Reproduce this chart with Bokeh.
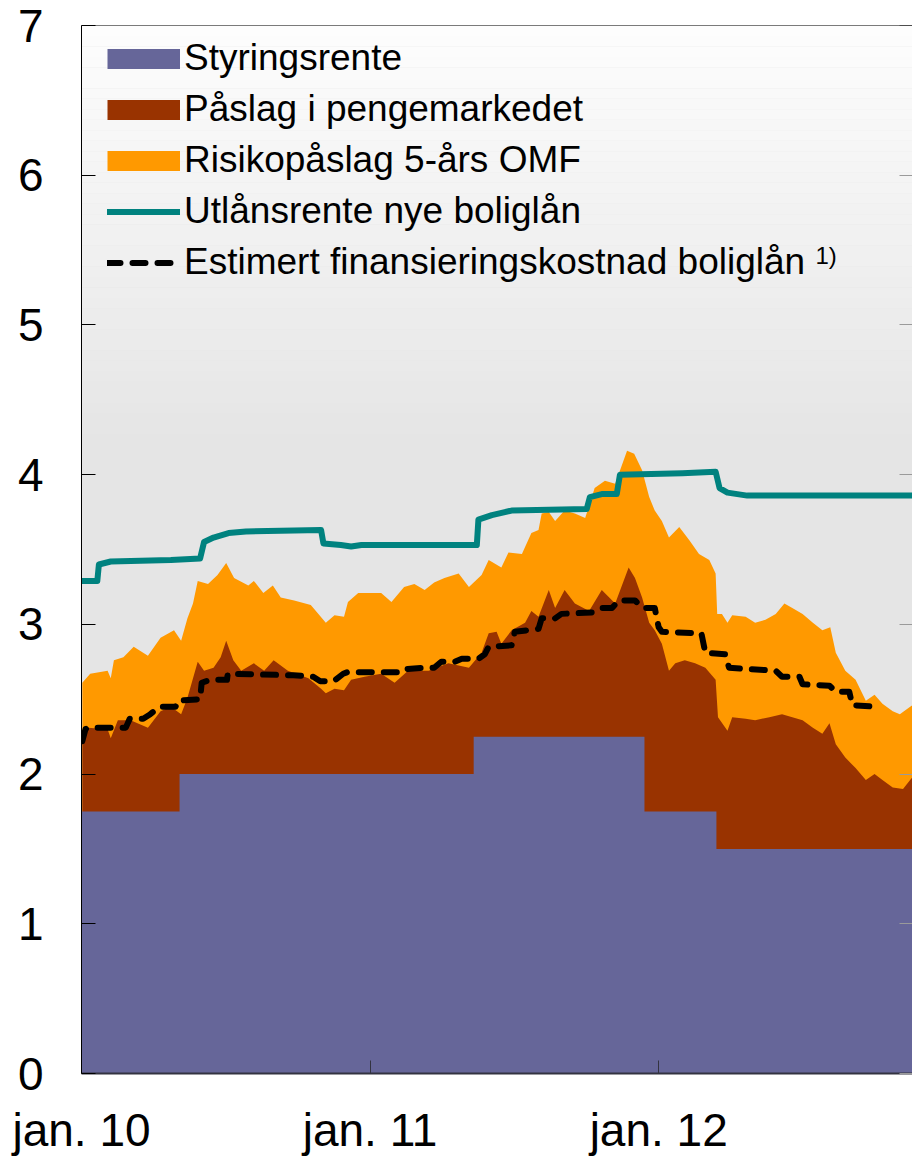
import pandas as pd
from bokeh.plotting import figure
from bokeh.models import (FixedTicker, DatetimeTickFormatter, Legend, LegendItem,
                          Label, Span, BoxAnnotation, LinearAxis)
from bokeh.embed import file_html
from bokeh.resources import INLINE

# ---------------- data ----------------
# Styringsrente (policy rate), step changes
policy_dates = ["2010-01-01", "2010-05-05", "2011-05-12", "2011-12-14", "2012-03-14", "2012-11-20"]
policy_rate = [1.75, 2.00, 2.25, 1.75, 1.50, 1.50]

# Top of "Påslag i pengemarkedet" (styringsrente + påslag i pengemarkedet)
mm_dates = ["2010-01-02", "2010-01-09", "2010-02-03", "2010-02-07", "2010-02-16", "2010-03-04",
            "2010-03-26", "2010-04-11", "2010-04-24", "2010-05-07", "2010-05-15", "2010-05-28",
            "2010-06-05", "2010-06-17", "2010-06-26", "2010-07-03", "2010-07-12", "2010-07-22",
            "2010-08-07", "2010-08-20", "2010-09-01", "2010-09-19", "2010-10-15", "2010-10-31",
            "2010-11-06", "2010-11-17", "2010-11-29", "2010-12-08", "2010-12-25", "2011-01-15",
            "2011-02-01", "2011-02-18", "2011-03-16", "2011-04-10", "2011-05-06", "2011-05-22",
            "2011-05-31", "2011-06-10", "2011-06-16", "2011-06-29", "2011-07-16", "2011-07-24",
            "2011-08-02", "2011-08-15", "2011-08-23", "2011-09-04", "2011-09-17", "2011-10-05",
            "2011-10-21", "2011-11-07", "2011-11-24", "2011-12-02", "2011-12-11", "2011-12-20",
            "2011-12-27", "2012-01-05", "2012-01-14", "2012-01-22", "2012-02-03", "2012-02-16",
            "2012-02-29", "2012-03-13", "2012-03-16", "2012-03-28", "2012-04-03", "2012-04-20",
            "2012-05-02", "2012-05-20", "2012-06-05", "2012-06-18", "2012-07-01", "2012-07-14",
            "2012-07-26", "2012-08-04", "2012-08-12", "2012-08-24", "2012-09-06", "2012-09-19",
            "2012-09-30", "2012-10-10", "2012-10-23", "2012-11-05", "2012-11-14", "2012-11-20"]
mm_top = [2.24, 2.31, 2.30, 2.24, 2.36, 2.36,
          2.31, 2.42, 2.45, 2.40, 2.51, 2.75,
          2.69, 2.71, 2.78, 2.89, 2.76, 2.69,
          2.74, 2.69, 2.76, 2.69, 2.64, 2.57,
          2.54, 2.57, 2.56, 2.63, 2.65, 2.67,
          2.61, 2.69, 2.69, 2.74, 2.71, 2.81,
          2.94, 2.95, 2.87, 2.96, 3.01, 3.09,
          3.05, 3.23, 3.11, 3.23, 3.14, 3.09,
          3.23, 3.14, 3.38, 3.31, 3.18, 3.01,
          2.96, 2.87, 2.69, 2.74, 2.76, 2.74,
          2.71, 2.63, 2.38, 2.29, 2.38, 2.37,
          2.36, 2.38, 2.40, 2.38, 2.36, 2.31,
          2.27, 2.34, 2.20, 2.11, 2.04, 1.96,
          2.00, 1.96, 1.91, 1.90, 1.96, 2.00]

# Top of "Risikopåslag 5-års OMF" (total of the three stacked components)
omf_dates = ["2010-01-02", "2010-01-12", "2010-02-03", "2010-02-07", "2010-02-11", "2010-02-23",
             "2010-03-08", "2010-03-26", "2010-04-11", "2010-04-28", "2010-05-07", "2010-05-15",
             "2010-05-22", "2010-05-28", "2010-06-10", "2010-06-22", "2010-07-03", "2010-07-13",
             "2010-07-31", "2010-08-07", "2010-08-19", "2010-08-31", "2010-09-10", "2010-09-27",
             "2010-10-18", "2010-10-29", "2010-11-06", "2010-11-17", "2010-11-29", "2010-12-04",
             "2010-12-17", "2011-01-03", "2011-01-15", "2011-01-28", "2011-02-13", "2011-02-26",
             "2011-03-11", "2011-03-23", "2011-04-05", "2011-04-23", "2011-05-06", "2011-05-22",
             "2011-05-31", "2011-06-16", "2011-06-25", "2011-07-12", "2011-07-24", "2011-08-02",
             "2011-08-06", "2011-08-15", "2011-08-23", "2011-09-04", "2011-09-17", "2011-09-30",
             "2011-10-12", "2011-10-25", "2011-11-07", "2011-11-22", "2011-12-01", "2011-12-11",
             "2011-12-20", "2011-12-27", "2012-01-05", "2012-01-14", "2012-01-27", "2012-02-09",
             "2012-02-21", "2012-03-05", "2012-03-13", "2012-03-15", "2012-03-21", "2012-03-28",
             "2012-04-03", "2012-04-20", "2012-05-02", "2012-05-15", "2012-05-28", "2012-06-08",
             "2012-06-18", "2012-07-01", "2012-07-14", "2012-07-26", "2012-08-05", "2012-08-12",
             "2012-08-24", "2012-09-06", "2012-09-19", "2012-09-30", "2012-10-10", "2012-10-23",
             "2012-11-01", "2012-11-14", "2012-11-20"]
omf_top = [2.61, 2.67, 2.69, 2.64, 2.76, 2.78,
           2.85, 2.79, 2.91, 2.96, 2.89, 3.04,
           3.14, 3.29, 3.27, 3.33, 3.41, 3.31,
           3.26, 3.29, 3.21, 3.26, 3.18, 3.16,
           3.13, 3.06, 3.01, 3.06, 3.05, 3.15,
           3.21, 3.21, 3.21, 3.15, 3.25, 3.27,
           3.23, 3.28, 3.31, 3.34, 3.25, 3.33,
           3.43, 3.38, 3.48, 3.47, 3.61, 3.63,
           3.74, 3.75, 3.69, 3.76, 3.74, 3.71,
           3.91, 3.96, 3.94, 4.16, 4.14, 4.03,
           3.85, 3.76, 3.69, 3.58, 3.65, 3.56,
           3.47, 3.43, 3.34, 3.07, 3.07, 3.01,
           3.06, 3.05, 3.01, 3.03, 3.07, 3.14,
           3.11, 3.07, 3.01, 2.96, 2.98, 2.81,
           2.69, 2.63, 2.49, 2.53, 2.47, 2.42,
           2.40, 2.45, 2.47]

# Utlånsrente nye boliglån
loan_dates = ["2010-01-01", "2010-01-21", "2010-01-23", "2010-02-07", "2010-04-24", "2010-05-31",
              "2010-06-05", "2010-06-17", "2010-07-06", "2010-07-28", "2010-10-31", "2010-11-03",
              "2010-11-25", "2010-12-08", "2010-12-21", "2011-05-16", "2011-05-18", "2011-06-04",
              "2011-06-29", "2011-10-02", "2011-10-06", "2011-10-21", "2011-11-09", "2011-11-13",
              "2012-01-31", "2012-03-13", "2012-03-18", "2012-03-28", "2012-04-22", "2012-11-20"]
loan_rate = [3.29, 3.29, 3.40, 3.42, 3.43, 3.44,
             3.55, 3.58, 3.61, 3.62, 3.63, 3.54,
             3.53, 3.52, 3.53, 3.53, 3.70, 3.73,
             3.76, 3.77, 3.85, 3.87, 3.87, 4.00,
             4.01, 4.02, 3.91, 3.88, 3.86, 3.86]

# Estimert finansieringskostnad boliglån
cost_dates = ["2010-01-02", "2010-01-06", "2010-01-09", "2010-02-26", "2010-03-03", "2010-03-20",
              "2010-03-29", "2010-04-10", "2010-04-30", "2010-05-03", "2010-05-31", "2010-06-02",
              "2010-06-13", "2010-07-04", "2010-07-05", "2010-09-26", "2010-10-21", "2010-10-30",
              "2010-11-16", "2010-11-28", "2010-12-03", "2011-02-06", "2011-02-10", "2011-03-11",
              "2011-03-23", "2011-04-01", "2011-04-18", "2011-04-27", "2011-05-18", "2011-05-26",
              "2011-05-31", "2011-06-29", "2011-07-03", "2011-08-02", "2011-08-06", "2011-08-23",
              "2011-08-31", "2011-10-09", "2011-10-21", "2011-11-03", "2011-11-12", "2011-12-02",
              "2011-12-11", "2011-12-27", "2012-01-01", "2012-01-05", "2012-02-24", "2012-02-29",
              "2012-03-25", "2012-03-30", "2012-05-28", "2012-06-05", "2012-06-27", "2012-07-01",
              "2012-08-04", "2012-08-12", "2012-08-29", "2012-09-02", "2012-10-01"]
cost_rate = [2.22, 2.30, 2.31, 2.31, 2.37, 2.37,
             2.40, 2.45, 2.45, 2.49, 2.50, 2.61,
             2.63, 2.63, 2.67, 2.66, 2.65, 2.62,
             2.62, 2.67, 2.68, 2.68, 2.70, 2.71,
             2.71, 2.75, 2.75, 2.77, 2.77, 2.80,
             2.85, 2.86, 2.95, 2.97, 3.04, 3.04,
             3.07, 3.08, 3.11, 3.11, 3.16, 3.16,
             3.11, 3.11, 2.98, 2.95, 2.94, 2.81,
             2.80, 2.71, 2.69, 2.65, 2.65, 2.60,
             2.59, 2.55, 2.55, 2.46, 2.45]

x_tick_dates = ["2010-01-01", "2011-01-01", "2012-01-01"]
y_ticks = [0, 1, 2, 3, 4, 5, 6, 7]

series_labels = ["Styringsrente", "Påslag i pengemarkedet", "Risikopåslag 5-års OMF",
                 "Utlånsrente nye boliglån", "Estimert finansieringskostnad boliglån"]
footnote = "1)"

# ---------------- styling ----------------
PURPLE = "#666699"
BROWN = "#993300"
ORANGE = "#ff9900"
TEAL = "#00827f"
FONT = "Liberation Sans"
NAN = float("nan")

to_dt = pd.to_datetime

p = figure(width=912, height=1158, x_axis_type="datetime",
           x_range=(pd.Timestamp("2010-01-01"), pd.Timestamp("2012-11-17")),
           y_range=(0, 7), output_backend="svg", toolbar_location=None,
           min_border_left=81, min_border_right=0, min_border_top=25, min_border_bottom=0)
p.background_fill_color = "#e5e5e5"
p.border_fill_color = "white"
p.outline_line_color = None
p.xgrid.visible = False
p.ygrid.visible = False

# vertical light gradient in the upper part of the plot area
N = 40
lo, hi = 4.2, 7.0
for i in range(N):
    b = lo + (hi - lo) * i / N
    t = b + (hi - lo) / N
    f = (i + 0.5) / N
    g = int(round(229 + (253 - 229) * f))
    p.add_layout(BoxAnnotation(bottom=b, top=t, fill_color=(g, g, g), fill_alpha=1.0,
                               line_color=None, level="underlay"))

# stacked areas (drawn as overlapping levels)
p.varea(x=to_dt(omf_dates), y1=0, y2=omf_top, fill_color=ORANGE)
p.varea(x=to_dt(mm_dates), y1=0, y2=mm_top, fill_color=BROWN)
p.varea_step(x=to_dt(policy_dates), y1=[0] * len(policy_rate), y2=policy_rate,
             step_mode="after", fill_color=PURPLE)

loan_r = p.line(x=to_dt(loan_dates), y=loan_rate, line_color=TEAL, line_width=6,
                line_join="round", line_cap="round")
cost_r = p.line(x=to_dt(cost_dates), y=cost_rate, line_color="black", line_width=6,
                line_dash="13 12", line_cap="round", line_join="round")

# legend proxies for the areas (thick butt-capped lines look like filled boxes; no visible data)
px_pol = p.line(x=[NAN], y=[NAN], line_color=PURPLE, line_width=20)
px_mm = p.line(x=[NAN], y=[NAN], line_color=BROWN, line_width=20)
px_omf = p.line(x=[NAN], y=[NAN], line_color=ORANGE, line_width=20)

legend = Legend(items=[LegendItem(label=series_labels[0], renderers=[px_pol]),
                       LegendItem(label=series_labels[1], renderers=[px_mm]),
                       LegendItem(label=series_labels[2], renderers=[px_omf]),
                       LegendItem(label=series_labels[3], renderers=[loan_r]),
                       LegendItem(label=series_labels[4], renderers=[cost_r])],
                location=(26, 790), glyph_width=73, glyph_height=41, label_height=41,
                label_standoff=4, spacing=9, padding=0, margin=0,
                label_text_font=FONT, label_text_font_size="37px", label_text_color="black",
                border_line_color=None, background_fill_alpha=0)
p.add_layout(legend)

p.add_layout(Label(x=734, y=818, x_units="screen", y_units="screen", text=footnote,
                   text_font=FONT, text_font_size="24px", text_color="black",
                   text_baseline="alphabetic"))

# top frame line
p.add_layout(Span(location=7, dimension="width", line_color="black", line_width=1))

# left axis
ya = p.yaxis[0]
ya.ticker = FixedTicker(ticks=y_ticks)
ya.major_tick_in = 14
ya.major_tick_out = 0
ya.minor_tick_line_color = None
ya.axis_line_color = "black"
ya.major_tick_line_color = "black"
ya.major_label_text_font = FONT
ya.major_label_text_font_size = "46px"
ya.major_label_text_color = "black"
ya.major_label_standoff = 38

# right axis: grey inward ticks only
ra = LinearAxis(ticker=FixedTicker(ticks=y_ticks), axis_line_color=None,
                major_tick_in=13, major_tick_out=0, major_tick_line_color="#9a9a9a",
                minor_tick_line_color=None, major_label_text_font_size="1px",
                major_label_text_alpha=0, major_label_standoff=0)
p.add_layout(ra, "right")

# bottom axis
xa = p.xaxis[0]
xa.ticker = FixedTicker(ticks=[pd.Timestamp(d).value // 10**6 for d in x_tick_dates])
fmt = "jan. %y"
xa.formatter = DatetimeTickFormatter(years=fmt, months=fmt, days=fmt, hours=fmt,
                                     hourmin=fmt, minutes=fmt, minsec=fmt, seconds=fmt,
                                     milliseconds=fmt, microseconds=fmt)
xa.major_tick_in = 13
xa.major_tick_out = 0
xa.minor_tick_line_color = None
xa.axis_line_color = "#333340"
xa.axis_line_width = 2
xa.major_tick_line_color = "#333340"
xa.major_label_text_font = FONT
xa.major_label_text_font_size = "46px"
xa.major_label_text_color = "black"
xa.major_label_standoff = 30

open("out.html", "w").write(file_html(p, INLINE))
